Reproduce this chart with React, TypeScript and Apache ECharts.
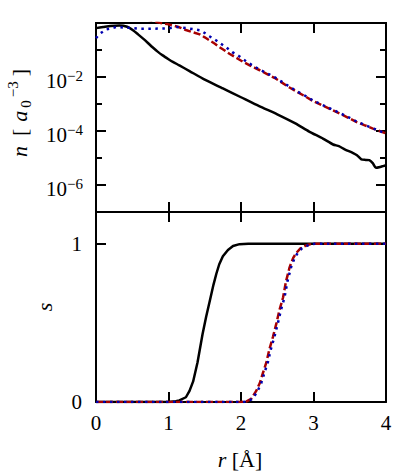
import React, { useEffect, useRef } from "react";
import * as echarts from "echarts";

// ---- axis ticks ----
const rTicks = [0, 1, 2, 3, 4];
const nMajorExp = [-6, -4, -2]; // labelled decades (10^x)
const nMinorExp = [-5, -3, -1];
const sTicks = [0, 1];

// ---- top panel: log10 of density n [a0^-3] ----
const rSolidTop = [0, 0.1, 0.2, 0.32, 0.43, 0.51, 0.58, 0.65, 0.72, 0.78, 0.85, 0.92, 1.0, 1.06, 1.15, 1.29, 1.5, 1.75, 2.0, 2.25, 2.5, 2.75, 2.94, 3.13, 3.27, 3.35, 3.43, 3.54, 3.6, 3.66, 3.72, 3.77, 3.82, 3.86, 3.92, 3.96, 4.0];
const logNSolid = [-0.19, -0.15, -0.11, -0.09, -0.14, -0.27, -0.42, -0.58, -0.75, -0.9, -1.06, -1.2, -1.34, -1.44, -1.57, -1.78, -2.1, -2.42, -2.75, -3.08, -3.38, -3.72, -4.02, -4.28, -4.5, -4.56, -4.68, -4.81, -4.9, -5.05, -5.07, -5.08, -5.2, -5.36, -5.33, -5.3, -5.27];

const rDashTop = [0, 0.3, 0.6, 0.85, 0.92, 1.0, 1.06, 1.15, 1.24, 1.33, 1.43, 1.5, 1.57, 1.64, 1.7, 1.77, 1.84, 1.91, 1.98, 2.05, 2.12, 2.19, 2.26, 2.36, 2.46, 2.56, 2.67, 2.78, 2.9, 3.0, 3.12, 3.24, 3.36, 3.48, 3.59, 3.7, 3.82, 3.91, 4.0];
const logNDash = [0.3, 0.3, 0.2, 0.03, -0.02, -0.05, -0.09, -0.16, -0.26, -0.34, -0.42, -0.53, -0.65, -0.77, -0.89, -1.01, -1.14, -1.25, -1.36, -1.47, -1.57, -1.66, -1.75, -1.89, -2.03, -2.2, -2.39, -2.56, -2.74, -2.9, -3.05, -3.2, -3.35, -3.51, -3.66, -3.78, -3.91, -4.0, -4.09];

const rDotTop = [0, 0.05, 0.14, 0.28, 0.42, 0.6, 0.8, 0.99, 1.11, 1.24, 1.35, 1.45, 1.57, 1.66, 1.79, 1.88, 1.98, 2.07, 2.16, 2.26, 2.37, 2.46, 2.56, 2.67, 2.78, 2.9, 3.0, 3.12, 3.24, 3.36, 3.48, 3.59, 3.7, 3.82, 3.91, 4.0];
const logNDot = [-0.56, -0.4, -0.24, -0.15, -0.17, -0.21, -0.21, -0.2, -0.15, -0.19, -0.23, -0.28, -0.5, -0.65, -0.89, -1.08, -1.24, -1.42, -1.57, -1.73, -1.88, -2.0, -2.17, -2.36, -2.54, -2.72, -2.88, -3.03, -3.18, -3.33, -3.49, -3.64, -3.77, -3.9, -4.0, -4.09];

// ---- bottom panel: s ----
const rSolidBot = [0, 1.0, 1.1, 1.15, 1.24, 1.29, 1.34, 1.4, 1.47, 1.52, 1.57, 1.62, 1.66, 1.7, 1.75, 1.82, 1.89, 1.98, 2.1, 2.5, 3.0, 4.0];
const sSolid = [0, 0, 0.005, 0.01, 0.03, 0.07, 0.13, 0.25, 0.43, 0.54, 0.64, 0.74, 0.81, 0.87, 0.92, 0.96, 0.985, 0.997, 1, 1, 1, 1];

const rDashBot = [0, 2.0, 2.07, 2.14, 2.21, 2.26, 2.3, 2.35, 2.39, 2.44, 2.49, 2.53, 2.58, 2.62, 2.67, 2.72, 2.76, 2.82, 2.88, 2.94, 3.0, 4.0];
const sDash = [0, 0, 0.003, 0.02, 0.07, 0.12, 0.18, 0.25, 0.33, 0.41, 0.5, 0.58, 0.66, 0.76, 0.85, 0.91, 0.94, 0.97, 0.985, 0.995, 1, 1];

const rDotBot = [0, 2.02, 2.09, 2.16, 2.23, 2.28, 2.32, 2.37, 2.41, 2.46, 2.51, 2.55, 2.6, 2.64, 2.69, 2.74, 2.78, 2.84, 2.9, 2.96, 3.02, 4.0];
const sDot = [0, 0, 0.003, 0.02, 0.07, 0.12, 0.18, 0.25, 0.33, 0.41, 0.5, 0.58, 0.66, 0.76, 0.85, 0.91, 0.94, 0.97, 0.985, 0.995, 1, 1];

const FONT = "'Liberation Serif', 'Times New Roman', Times, serif";
const BLACK = "#000000";
const RED = "#a80000";
const BLUE = "#0000b0";
const FS = 21;

const pairs = (xs: number[], ys: number[]) => xs.map((x, i) => [x, ys[i]]);

const axisLine = { show: true, onZero: false, lineStyle: { color: BLACK, width: 2 } };
const tick = (len: number, custom?: number[]) => {
  const t: any = { show: true, inside: true, length: len, lineStyle: { color: BLACK, width: 2 } };
  if (custom) t.customValues = custom;
  return t;
};

function xAxisFor(grid: number, pos: string, labels: boolean) {
  return {
    type: "value",
    gridIndex: grid,
    position: pos,
    min: 0,
    max: 4,
    interval: 1,
    axisLine,
    axisTick: tick(10, rTicks),
    axisLabel: {
      show: labels,
      customValues: rTicks,
      margin: 10,
      fontSize: FS,
      fontFamily: FONT,
      color: BLACK,
    },
    splitLine: { show: false },
  };
}

const expRich = {
  b: { fontSize: FS, fontFamily: FONT, color: BLACK, lineHeight: 26, verticalAlign: "middle" },
  s: { fontSize: 15, fontFamily: FONT, color: BLACK, lineHeight: 12, verticalAlign: "top" },
};

const option: any = {
  animation: false,
  backgroundColor: "#ffffff",
  textStyle: { fontFamily: FONT },
  grid: [
    { left: 96, top: 23, width: 290, height: 189, show: false },
    { left: 96, top: 212, width: 290, height: 190, show: false },
  ],
  xAxis: [
    xAxisFor(0, "bottom", false),
    xAxisFor(0, "top", false),
    xAxisFor(1, "bottom", true),
    xAxisFor(1, "top", false),
  ],
  yAxis: [
    {
      type: "value",
      gridIndex: 0,
      position: "left",
      min: -7,
      max: 0,
      interval: 1,
      axisLine,
      axisTick: tick(10, nMajorExp),
      axisLabel: {
        show: true,
        customValues: nMajorExp,
        margin: 13,
        padding: [8, 0, 0, 0],
        fontFamily: FONT,
        formatter: (v: number) => `{b|10}{s|−${-v}}`,
        rich: expRich,
      },
      splitLine: { show: false },
    },
    {
      type: "value",
      gridIndex: 0,
      position: "right",
      min: -7,
      max: 0,
      interval: 1,
      axisLine,
      axisTick: tick(10, nMajorExp),
      axisLabel: { show: false },
      splitLine: { show: false },
    },
    {
      type: "value",
      gridIndex: 0,
      position: "left",
      min: -7,
      max: 0,
      interval: 1,
      axisLine,
      axisTick: tick(6, nMinorExp),
      axisLabel: { show: false },
      splitLine: { show: false },
    },
    {
      type: "value",
      gridIndex: 0,
      position: "right",
      min: -7,
      max: 0,
      interval: 1,
      axisLine,
      axisTick: tick(6, nMinorExp),
      axisLabel: { show: false },
      splitLine: { show: false },
    },
    {
      type: "value",
      gridIndex: 1,
      position: "left",
      min: 0,
      max: 1.2,
      interval: 1,
      axisLine,
      axisTick: tick(10, sTicks),
      axisLabel: {
        show: true,
        customValues: sTicks,
        margin: 14,
        fontSize: FS,
        fontFamily: FONT,
        color: BLACK,
      },
      splitLine: { show: false },
    },
    {
      type: "value",
      gridIndex: 1,
      position: "right",
      min: 0,
      max: 1.2,
      interval: 1,
      axisLine,
      axisTick: tick(10, sTicks),
      axisLabel: { show: false },
      splitLine: { show: false },
    },
  ],
  series: [
    {
      type: "line", xAxisIndex: 0, yAxisIndex: 0, showSymbol: false, symbol: "none", clip: true, smooth: 0.2,
      data: pairs(rSolidTop, logNSolid),
      lineStyle: { color: BLACK, width: 2.5 },
    },
    {
      type: "line", xAxisIndex: 0, yAxisIndex: 0, showSymbol: false, symbol: "none", clip: true,
      data: pairs(rDashTop, logNDash),
      lineStyle: { color: RED, width: 2.5, type: [7, 3] },
    },
    {
      type: "line", xAxisIndex: 0, yAxisIndex: 0, showSymbol: false, symbol: "none", clip: true,
      data: pairs(rDotTop, logNDot),
      lineStyle: { color: BLUE, width: 2.5, type: [2.5, 4.5] },
    },
    {
      type: "line", xAxisIndex: 2, yAxisIndex: 4, showSymbol: false, symbol: "none", clip: true,
      data: pairs(rSolidBot, sSolid),
      lineStyle: { color: BLACK, width: 2.5 },
    },
    {
      type: "line", xAxisIndex: 2, yAxisIndex: 4, showSymbol: false, symbol: "none", clip: true,
      data: pairs(rDashBot, sDash),
      lineStyle: { color: RED, width: 2.5, type: [7, 3] },
    },
    {
      type: "line", xAxisIndex: 2, yAxisIndex: 4, showSymbol: false, symbol: "none", clip: true,
      data: pairs(rDotBot, sDot),
      lineStyle: { color: BLUE, width: 2.5, type: [2.5, 4.5] },
    },
  ],
  graphic: [
    {
      type: "text",
      x: 19,
      y: 113,
      rotation: Math.PI / 2,
      style: {
        text: "{i|n}{r|[}{a|a}{sub|0}{sup|−3}{rb|]}",
        align: "center",
        verticalAlign: "middle",
        textAlign: "center",
        textVerticalAlign: "middle",
        fontSize: 22,
        fontFamily: FONT,
        fill: BLACK,
        rich: {
          i: { fontSize: 22, fontFamily: FONT, fontStyle: "italic", fill: BLACK, lineHeight: 28, verticalAlign: "middle", padding: [0, 10, 0, 0] },
          r: { fontSize: 22, fontFamily: FONT, fill: BLACK, lineHeight: 28, verticalAlign: "middle", padding: [0, 7, 0, 0] },
          a: { fontSize: 22, fontFamily: FONT, fontStyle: "italic", fill: BLACK, lineHeight: 28, verticalAlign: "middle", padding: [0, 3, 0, 0] },
          rb: { fontSize: 22, fontFamily: FONT, fill: BLACK, lineHeight: 28, verticalAlign: "middle", padding: [0, 0, 0, 5] },
          sub: { fontSize: 15, fontFamily: FONT, fill: BLACK, lineHeight: 18, verticalAlign: "bottom", padding: [0, 3, 0, 0] },
          sup: { fontSize: 15, fontFamily: FONT, fill: BLACK, lineHeight: 14, verticalAlign: "top" },
        },
      },
    },
    {
      type: "text",
      x: 44,
      y: 307,
      rotation: Math.PI / 2,
      style: {
        text: "s",
        align: "center",
        verticalAlign: "middle",
        textAlign: "center",
        textVerticalAlign: "middle",
        fontSize: 22,
        fontStyle: "italic",
        fontFamily: FONT,
        fill: BLACK,
      },
    },
    {
      type: "text",
      x: 240,
      y: 459,
      style: {
        text: "{i|r}{r| [Å]}",
        align: "center",
        verticalAlign: "middle",
        textAlign: "center",
        textVerticalAlign: "middle",
        fontSize: 22,
        fontFamily: FONT,
        fill: BLACK,
        rich: {
          i: { fontSize: 22, fontFamily: FONT, fontStyle: "italic", fill: BLACK },
          r: { fontSize: 22, fontFamily: FONT, fill: BLACK },
        },
      },
    },
  ],
};

export default function App() {
  const ref = useRef<HTMLDivElement>(null);
  useEffect(() => {
    const chart = echarts.init(ref.current!, null, { renderer: "svg" });
    chart.setOption(option);
    return () => chart.dispose();
  }, []);
  return (
    <div
      ref={ref}
      style={{ position: "absolute", left: 0, top: 0, width: 399, height: 471, background: "#fff" }}
    />
  );
}
